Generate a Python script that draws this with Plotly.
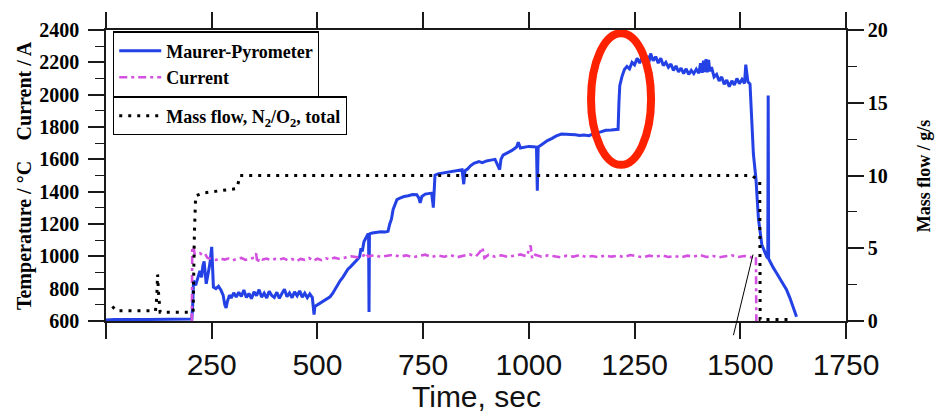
import plotly.graph_objects as go

# ---- Maurer pyrometer temperature (deg C) vs time (s) ----
pyro_time = [
    0, 20, 100, 180, 203, 205, 207, 212, 218, 222, 226, 229, 232, 235, 237,
    242, 246, 250, 252, 254, 260, 266, 272, 277, 281, 284, 287, 292,
    296, 302, 308, 314, 320, 326, 332, 338, 344, 350, 356, 362, 368, 374,
    380, 386, 392, 398, 404, 410, 416, 422, 428, 434, 440, 446, 452, 458,
    464, 470, 476, 482, 488,
    490, 492, 494, 500, 506, 512, 518, 524, 530, 536, 542, 548, 554, 560,
    566, 572, 578, 584, 590, 596, 600, 603, 606, 610, 614, 618, 620, 621,
    622, 623, 624, 630, 640, 650, 660, 667,
    671, 675, 679, 684, 688, 695, 705, 715, 725, 735, 740, 743, 747, 755,
    765, 770, 773, 774, 776, 778, 785, 795, 805, 815, 825, 837, 842, 846,
    849, 855, 862, 870, 882, 890, 900, 910, 920, 931, 934, 939, 950, 960,
    971, 975, 980, 990, 1000, 1010, 1018, 1020, 1022, 1030, 1044, 1055,
    1065, 1077, 1090, 1100, 1110, 1120, 1130, 1142, 1155, 1170, 1182, 1195,
    1205, 1211,
    1213, 1215, 1220, 1226, 1232, 1238, 1244, 1250, 1256, 1262, 1268, 1274,
    1280, 1284, 1288, 1294, 1300, 1306, 1312, 1318, 1324, 1330, 1336, 1342,
    1348, 1354, 1360, 1366, 1372, 1378, 1384, 1390, 1396, 1402, 1406, 1410,
    1413, 1416, 1419, 1422, 1425, 1428, 1432, 1438, 1444, 1450, 1456, 1462,
    1468, 1474, 1480, 1486, 1492, 1498, 1504, 1510, 1513, 1515, 1518, 1523,
    1527, 1531, 1537, 1543, 1551, 1558, 1563, 1565, 1566, 1567, 1570, 1578,
    1585, 1593, 1601, 1609, 1617, 1625, 1633,
]
pyro_temp = [
    606, 610, 610, 611, 612, 700, 850, 820, 880, 910, 870, 940, 968, 850, 830,
    900, 960, 1059, 950, 810, 800, 815, 790, 760, 700, 680, 720, 760,
    742, 774, 748, 778, 752, 792, 746, 770, 738, 780, 756, 794, 748, 772,
    742, 784, 758, 746, 778, 740, 770, 796, 750, 774, 744, 780, 756, 786,
    748, 772, 744, 768, 745,
    690, 640, 690, 700, 705, 715, 725, 740, 750, 770, 800, 830, 850, 870,
    895, 920, 935, 950, 965, 985, 1000, 1050, 1030, 1090, 1110, 1125, 1140, 1135,
    656, 1135, 1140, 1145, 1150, 1152, 1150, 1155,
    1200, 1230, 1290, 1320, 1351, 1360, 1370, 1375, 1382, 1381, 1360, 1331, 1370, 1385,
    1390, 1391, 1330, 1301, 1400, 1502, 1510, 1515, 1520, 1525, 1530, 1532, 1536, 1446,
    1530, 1540, 1560, 1575, 1586, 1580, 1590, 1595, 1600, 1536, 1600, 1626, 1640, 1655,
    1676, 1706, 1670, 1675, 1680, 1678, 1676, 1406, 1676, 1690, 1716, 1730,
    1745, 1756, 1755, 1750, 1752, 1748, 1750, 1746, 1760, 1770, 1780, 1782,
    1785, 1786,
    1950, 2056, 2110, 2156, 2175, 2160, 2200, 2185, 2225, 2195, 2235, 2205,
    2240, 2200, 2255, 2210, 2235, 2195, 2225, 2180, 2200, 2170, 2190, 2150,
    2178, 2140, 2165, 2130, 2160, 2125, 2150, 2130, 2158, 2132, 2195, 2135,
    2210, 2140, 2220, 2138, 2215, 2145, 2170, 2110, 2125, 2085, 2110, 2065,
    2090, 2050, 2085, 2060, 2100, 2068, 2095, 2070, 2186, 2130, 2080, 2066,
    1856, 1633, 1480, 1230, 1071, 1020, 995, 990, 1995, 985, 968, 930,
    900, 865, 829, 795, 745, 686, 626,
]

# ---- Arc current (A) vs time (s) ----
cur_time = [
    203, 204, 207, 210, 215, 222, 228, 234, 240, 250, 260, 270, 280, 290,
    300, 310, 320, 330, 340, 350, 355, 358, 362, 370, 380, 390, 400, 410,
    420, 430, 440, 450, 460, 470, 480, 490, 500, 510, 520, 530, 540, 550,
    565, 580, 595, 610, 615, 620, 635, 650, 665, 680, 695, 710, 725, 740,
    755, 770, 785, 800, 815, 830, 845, 860, 875, 885, 890, 895, 905, 920,
    935, 950, 965, 980, 995, 1000, 1004, 1008, 1015, 1030, 1045, 1060, 1075,
    1090, 1105, 1120, 1135, 1150, 1165, 1180, 1195, 1210, 1225, 1240, 1255,
    1270, 1285, 1300, 1315, 1330, 1345, 1360, 1375, 1390, 1405, 1420, 1435,
    1450, 1465, 1480, 1495, 1510, 1525, 1537, 1538,
]
cur_amp = [
    600, 1060, 1055, 1010, 1015, 1019, 1008, 1016, 990, 984, 978, 988, 980, 986,
    976, 984, 990, 978, 985, 992, 1018, 958, 990, 980, 986, 976, 984, 980,
    988, 975, 983, 970, 984, 978, 990, 972, 985, 976, 988, 980, 992, 985,
    992, 1000, 994, 1006, 1022, 998, 1008, 996, 1004, 1010, 998, 1006, 994, 1004,
    1010, 996, 1005, 998, 1008, 994, 1004, 1012, 1000, 1030, 1055, 990, 1010, 998,
    1006, 996, 1004, 1012, 1000, 1040, 1068, 985, 1010, 998, 1006, 1000, 994,
    1004, 998, 1008, 996, 1002, 994, 1006, 998, 1004, 996, 1008, 1000,
    994, 1004, 998, 1006, 996, 1002, 994, 1004, 998, 1008, 996, 1002,
    994, 1000, 1006, 996, 1002, 994, 1000, 600,
]

# ---- Total N2/O2 mass flow (g/s) vs time (s) ----
flow_time = [15, 25, 60, 95, 117, 120, 122, 124, 128, 160, 195, 206, 209, 212,
             230, 260, 290, 308, 312, 317, 1527, 1546, 1547, 1621]
flow_gs = [1.0, 0.7, 0.7, 0.7, 0.7, 1.6, 3.2, 2.0, 0.6, 0.6, 0.6, 0.6, 6.0, 8.6,
           8.8, 8.9, 9.0, 9.1, 9.4, 10.0, 10.0, 9.6, 0.1, 0.1]

# axis ticks
time_ticks = [0, 250, 500, 750, 1000, 1250, 1500, 1750]
time_labels = ["", "250", "500", "750", "1000", "1250", "1500", "1750"]

# highlight ring around the temperature jump (time span, temperature span)
ring_time = [1147, 1289]
ring_temp = [1566, 2380]
# leader line from below the axis to the end of the current trace
leader_time = [1483, 1530]
leader_temp = [503, 1011]

assert len(pyro_time) == len(pyro_temp)
assert len(cur_time) == len(cur_amp)
assert len(flow_time) == len(flow_gs)

BLUE = "#2341e4"
MAGENTA = "#d350e0"
AXIS = "#1a1a1a"
SERIF = "Liberation Serif"
SANS = "Liberation Sans"

fig = go.Figure()
fig.add_trace(go.Scatter(
    x=pyro_time, y=pyro_temp, mode="lines", name="Maurer-Pyrometer",
    line=dict(color=BLUE, width=3), legend="legend",
))
fig.add_trace(go.Scatter(
    x=cur_time, y=cur_amp, mode="lines", name="Current",
    line=dict(color=MAGENTA, width=2.6, dash="8px,4px,3px,4px"), legend="legend",
))
fig.add_trace(go.Scatter(
    x=flow_time, y=flow_gs, mode="lines", yaxis="y2",
    name="Mass flow, N<sub>2</sub>/O<sub>2</sub>, total",
    line=dict(color="black", width=3, dash="3px,6px"), legend="legend2",
))

bold_serif = dict(family=SERIF, size=20, color="black", weight="bold")
legend_font = dict(family=SERIF, size=18, color="black", weight="bold")
title_font = dict(family=SERIF, size=20, color="black", weight="bold")

fig.update_layout(
    width=937, height=415,
    margin=dict(l=106, r=91, t=23, b=94),
    plot_bgcolor="white", paper_bgcolor="white",
    showlegend=True,
    xaxis=dict(
        range=[0, 1750], tickvals=time_ticks, ticktext=time_labels,
        showgrid=False, zeroline=False, showline=True, linecolor=AXIS, linewidth=1.5,
        ticks="outside", ticklen=16, tickwidth=1.5, tickcolor=AXIS, mirror="ticks",
        tickfont=dict(family=SANS, size=30, color="#111"),
    ),
    yaxis=dict(
        range=[600, 2400], dtick=200, tick0=600,
        showgrid=False, zeroline=False, showline=True, linecolor=AXIS, linewidth=1.5,
        ticks="outside", ticklen=16, tickwidth=1.5, tickcolor=AXIS, ticklabelstandoff=5,
        minor=dict(dtick=100, ticks="outside", ticklen=9, tickwidth=1.2, tickcolor=AXIS),
        tickfont=bold_serif,
    ),
    yaxis2=dict(
        range=[0, 20], dtick=5, tick0=0, overlaying="y", side="right",
        showgrid=False, zeroline=False, showline=True, linecolor=AXIS, linewidth=1.5,
        ticks="outside", ticklen=16, tickwidth=1.5, tickcolor=AXIS,
        minor=dict(dtick=2.5, ticks="outside", ticklen=9, tickwidth=1.2, tickcolor=AXIS),
        tickfont=bold_serif,
    ),
    legend=dict(
        x=0.0095, y=0.995, xanchor="left", yanchor="top",
        bgcolor="white", bordercolor="black", borderwidth=1.2,
        font=legend_font, tracegroupgap=0, itemwidth=42,
    ),
    legend2=dict(
        x=0.0095, y=0.772, xanchor="left", yanchor="top",
        bgcolor="white", bordercolor="black", borderwidth=1.2,
        font=legend_font, tracegroupgap=0, itemwidth=42,
    ),
    shapes=[dict(
        type="circle", xref="x", yref="y",
        x0=ring_time[0], x1=ring_time[1], y0=ring_temp[0], y1=ring_temp[1],
        line=dict(color="#ff2200", width=8), layer="above",
    )],
    annotations=[
        dict(text="Current / A", xref="paper", yref="paper", x=-0.111, y=0.792,
             xanchor="center", yanchor="middle",
             textangle=-90, showarrow=False, font=title_font),
        dict(text="Temperature / °C", xref="paper", yref="paper", x=-0.111, y=0.295,
             xanchor="center", yanchor="middle",
             textangle=-90, showarrow=False, font=title_font),
        dict(text="Mass flow / g/s", xref="paper", yref="paper", x=1.105, y=0.5,
             xanchor="center", yanchor="middle",
             textangle=-90, showarrow=False,
             font=dict(family=SERIF, size=18, color="black", weight="bold")),
        dict(text="Time, sec", xref="paper", yref="paper", x=0.501, y=-0.258,
             xanchor="center", yanchor="middle", showarrow=False,
             font=dict(family=SANS, size=30, color="#111")),
        dict(text="", x=leader_time[1], y=leader_temp[1], xref="x", yref="y",
             ax=leader_time[0], ay=leader_temp[0], axref="x", ayref="y",
             showarrow=True, arrowhead=0, arrowwidth=1, arrowcolor="black", standoff=0),
    ],
)

fig.write_html("out.html")
